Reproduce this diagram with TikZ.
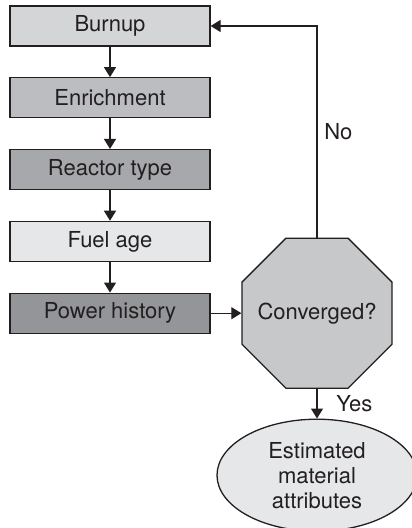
\documentclass[tikz,border=0pt]{standalone}
\usepackage{fontspec}
\setmainfont{TeX Gyre Heros}
\usetikzlibrary{arrows.meta, positioning, shapes.geometric}
\usepackage{xcolor}
\definecolor{ink}{HTML}{231F20}
\definecolor{grayA}{HTML}{D4D5D7}
\definecolor{grayB}{HTML}{BCBDC0}
\definecolor{grayC}{HTML}{A7A8AB}
\definecolor{grayD}{HTML}{E6E7E8}
\definecolor{grayE}{HTML}{939598}
\definecolor{grayF}{HTML}{C7C8CA}
\def\stepsep{35.9pt}

\begin{document}
\begin{tikzpicture}[x=0.5pt, y=-0.5pt, ->, >={Triangle[length=5pt,width=6pt]},
    draw=ink, line width=0.65pt, text=ink, font=\fontsize{11}{12.5}\selectfont]
    \tikzstyle{stage}=[rectangle, draw=ink, minimum width=100pt, minimum height=20pt, inner sep=0pt]
    \tikzstyle{test}=[regular polygon, regular polygon sides=8, draw=ink, fill=grayF, minimum size=81.2pt, inner sep=0pt]
    \tikzstyle{result}=[ellipse, draw=ink, fill=grayD, minimum width=100pt, minimum height=56pt, inner sep=0pt, align=center]

    \useasboundingbox (0,0) rectangle (411,528);

    % Parameter boxes down the left side
    \node[stage, fill=grayA] (burnup) at (110,26) {Burnup};
    \node[stage, fill=grayB, below of=burnup, node distance=\stepsep] (enrich) {Enrichment};
    \node[stage, fill=grayC, below of=enrich, node distance=\stepsep] (reactor) {Reactor type};
    \node[stage, fill=grayD, below of=reactor, node distance=\stepsep] (fuelage) {Fuel age};
    \node[stage, fill=grayE, below of=fuelage, node distance=\stepsep] (power) {Power history};

    \foreach \from/\to in {burnup/enrich, enrich/reactor, reactor/fuelage, fuelage/power}
        \draw (\from) -- (\to);

    % Convergence test and outcome
    \node[test, right of=power, node distance=103.5pt, label=center:Converged?] (conv) {};
    \node[result, below of=conv, node distance=81pt] (est) {Estimated\\material\\attributes};

    \draw (power) -- (conv);
    \draw (conv.north) |- node[pos=0.25, right] {No} (burnup.east);
    \draw (conv.south) -- node[right, xshift=6pt] {Yes} (est.north);
\end{tikzpicture}
\end{document}
